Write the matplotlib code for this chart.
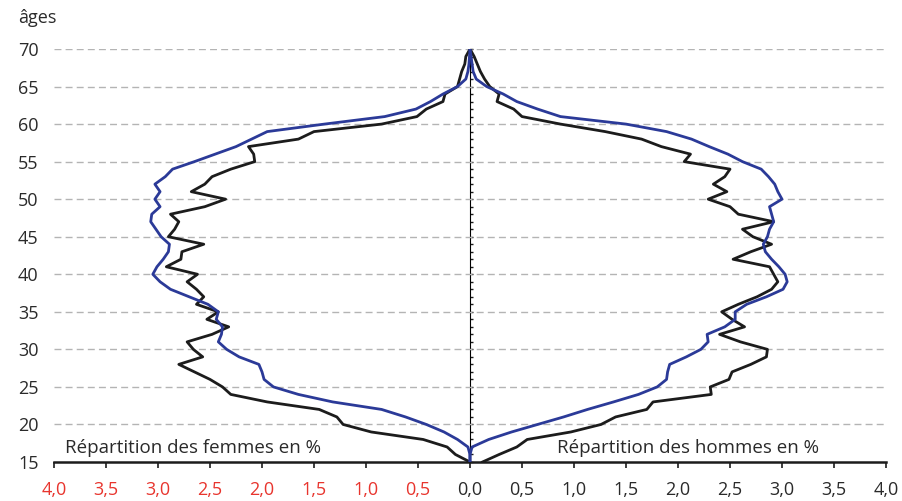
import matplotlib
matplotlib.use("Agg")
import matplotlib.pyplot as plt
from matplotlib.ticker import MultipleLocator, FuncFormatter, NullFormatter
import numpy as np

# --- data (percent of population by age) ---
ages = list(range(15, 71))

femmes_noir = [0.0, 0.14, 0.22, 0.45, 0.95, 1.22, 1.28, 1.45, 1.95, 2.30,
               2.38, 2.50, 2.65, 2.80, 2.57, 2.66, 2.72, 2.48, 2.32, 2.53,
               2.42, 2.63, 2.56, 2.63, 2.72, 2.62, 2.92, 2.78, 2.77, 2.56,
               2.90, 2.84, 2.80, 2.88, 2.55, 2.35, 2.68, 2.55, 2.48, 2.30,
               2.07, 2.08, 2.13, 1.65, 1.50, 0.85, 0.51, 0.42, 0.26, 0.24,
               0.12, 0.10, 0.08, 0.05, 0.04, 0.0]

femmes_bleu = [0.0, 0.0, 0.02, 0.12, 0.25, 0.42, 0.62, 0.85, 1.32, 1.65,
               1.89, 1.98, 2.00, 2.03, 2.22, 2.34, 2.42, 2.39, 2.38, 2.44,
               2.42, 2.52, 2.70, 2.88, 2.98, 3.05, 3.01, 2.95, 2.90, 2.89,
               2.97, 3.02, 3.07, 3.06, 2.98, 3.03, 2.98, 3.03, 2.93, 2.86,
               2.65, 2.45, 2.25, 2.10, 1.95, 1.40, 0.82, 0.52, 0.38, 0.26,
               0.12, 0.04, 0.02, 0.01, 0.005, 0.0]

hommes_noir = [0.12, 0.28, 0.45, 0.55, 0.97, 1.26, 1.40, 1.70, 1.76, 2.32,
               2.31, 2.49, 2.52, 2.70, 2.85, 2.86, 2.60, 2.40, 2.64, 2.52,
               2.42, 2.58, 2.76, 2.90, 2.96, 2.92, 2.88, 2.53, 2.70, 2.90,
               2.72, 2.62, 2.92, 2.58, 2.50, 2.29, 2.47, 2.34, 2.45, 2.50,
               2.06, 2.12, 1.84, 1.65, 1.30, 0.87, 0.50, 0.42, 0.26, 0.28,
               0.19, 0.14, 0.10, 0.07, 0.04, 0.0]

hommes_bleu = [0.0, 0.0, 0.02, 0.18, 0.40, 0.65, 0.90, 1.13, 1.38, 1.62,
               1.80, 1.89, 1.90, 1.92, 2.08, 2.22, 2.29, 2.28, 2.45, 2.55,
               2.55, 2.66, 2.85, 3.01, 3.05, 3.03, 2.97, 2.90, 2.84, 2.82,
               2.86, 2.88, 2.92, 2.90, 2.88, 3.00, 2.96, 2.93, 2.87, 2.80,
               2.62, 2.48, 2.30, 2.13, 1.89, 1.50, 0.87, 0.65, 0.45, 0.32,
               0.16, 0.06, 0.03, 0.02, 0.01, 0.0]

x_ticks = np.arange(-4.0, 4.01, 0.5)
y_ticks = list(range(15, 71, 5))

NOIR = "#1c1c1c"
BLEU = "#2b3a98"
ROUGE = "#e8352e"
TEXTE = "#2a2a2a"
FS = 13

plt.rcParams['font.family'] = ['Open Sans', 'DejaVu Sans']

fig = plt.figure(figsize=(9.02, 5.01), dpi=100)
ax = fig.add_axes([54 / 902, 1 - 462 / 501, 832 / 902, 413 / 501])

# curves: women on the left (negative), men on the right
ax.plot([-v for v in femmes_noir], ages, color=NOIR, lw=2.0, solid_joinstyle='round', zorder=3)
ax.plot(hommes_noir, ages, color=NOIR, lw=2.0, solid_joinstyle='round', zorder=3)
ax.plot([-v for v in femmes_bleu], ages, color=BLEU, lw=2.0, solid_joinstyle='round', zorder=4)
ax.plot(hommes_bleu, ages, color=BLEU, lw=2.0, solid_joinstyle='round', zorder=4)

ax.set_xlim(-4, 4)
ax.set_ylim(15, 70)

# horizontal dashed grid
for a in y_ticks[1:]:
    ax.axhline(a, color="#b4b4b4", lw=1.0, ls=(0, (5, 3)), zorder=1)

# spines
for s in ['top', 'right', 'left']:
    ax.spines[s].set_visible(False)
ax.spines['bottom'].set_linewidth(1.8)
ax.spines['bottom'].set_color(NOIR)

# x ticks: absolute values, red on the women side
ax.set_xticks(x_ticks)
ax.xaxis.set_major_formatter(FuncFormatter(lambda v, p: f"{abs(v):.1f}".replace(".", ",")))
ax.tick_params(axis='x', direction='out', length=4, width=1.2, pad=10,
               labelsize=FS, colors=NOIR, labelcolor=TEXTE)
for lab, v in zip(ax.get_xticklabels(), x_ticks):
    if v < 0:
        lab.set_color(ROUGE)

# y ticks on the left, no marks
ax.set_yticks(y_ticks)
ax.tick_params(axis='y', length=0, pad=11, labelsize=FS, labelcolor=TEXTE)

# central axis with small ticks
sec = ax.secondary_yaxis(0.5)
sec.spines['left'].set_linewidth(1.4)
sec.spines['left'].set_color(NOIR)
sec.yaxis.set_major_locator(MultipleLocator(5))
sec.yaxis.set_minor_locator(MultipleLocator(1))
sec.yaxis.set_major_formatter(NullFormatter())
sec.yaxis.set_minor_formatter(NullFormatter())
sec.tick_params(which='both', direction='out', length=2.5, width=1.0, color=NOIR)

ax.text(-3.89, 16.9, "Répartition des femmes en %", fontsize=13.5, color=TEXTE,
        ha='left', va='center', zorder=5)
ax.text(0.84, 16.9, "Répartition des hommes en %", fontsize=13.5, color=TEXTE,
        ha='left', va='center', zorder=5)

fig.text(18 / 902, 1 - 18 / 501, "âges", fontsize=FS, color=TEXTE, ha='left', va='center')

fig.savefig("out.png", dpi=100)
